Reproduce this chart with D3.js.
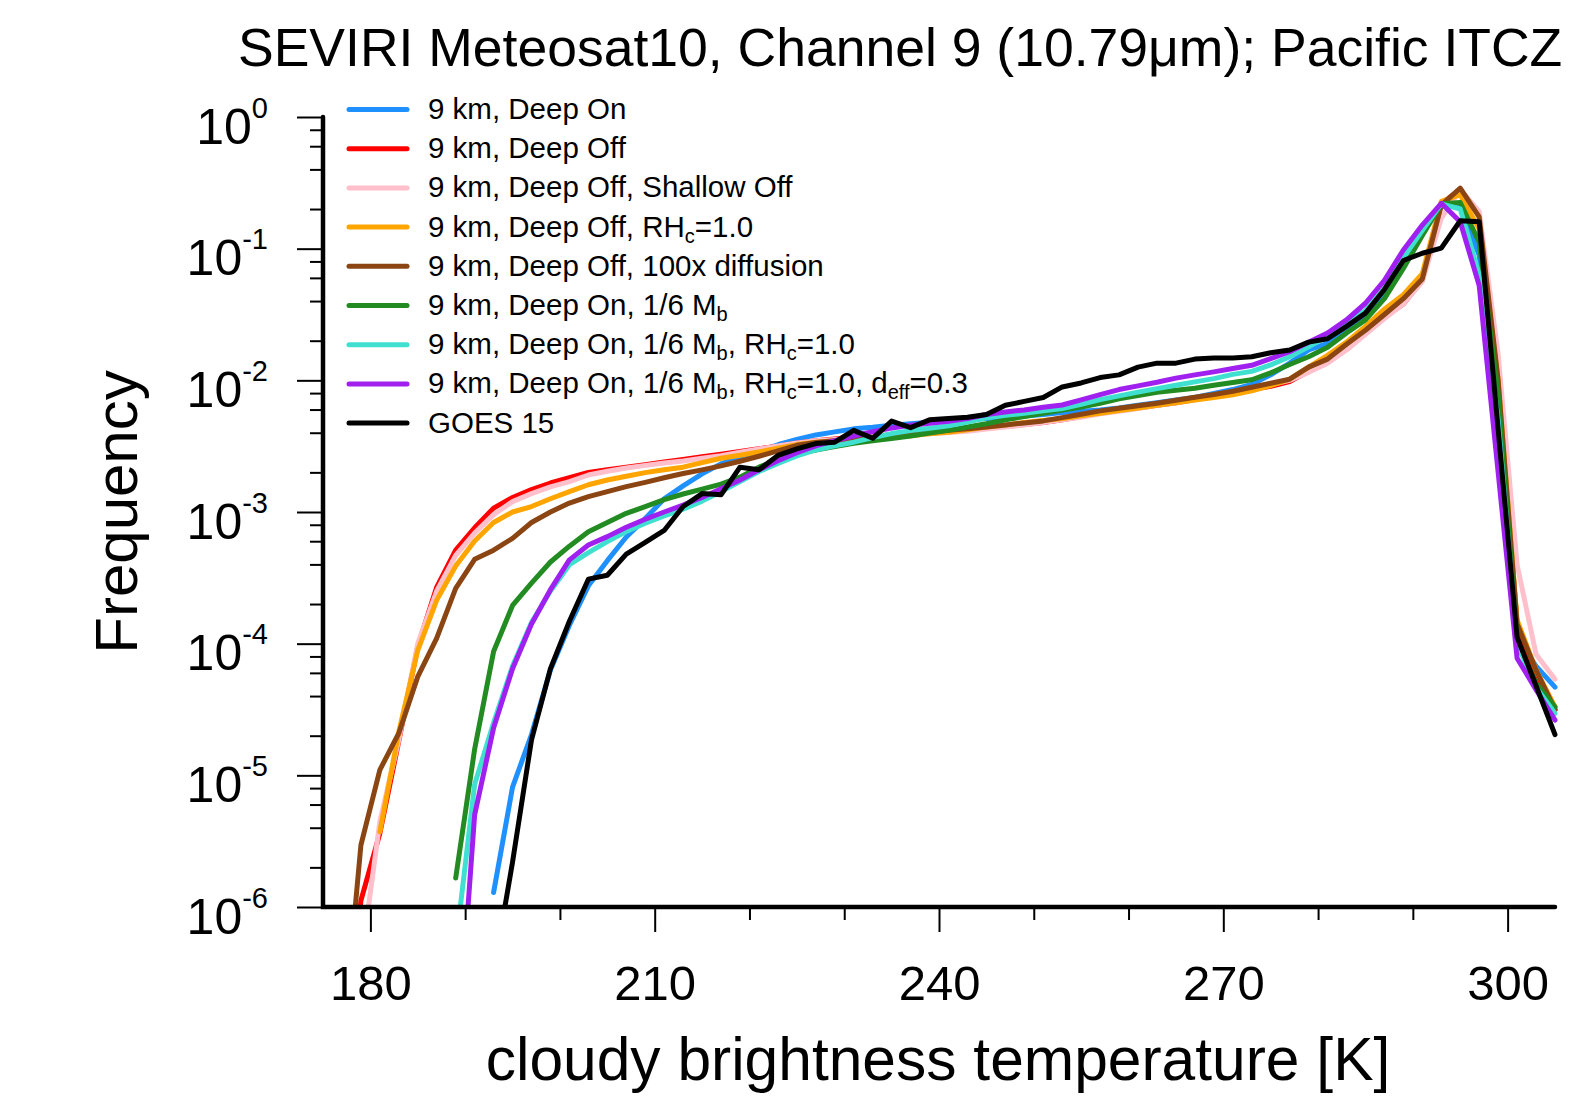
<!DOCTYPE html>
<html>
<head>
<meta charset="utf-8">
<script src="https://cdn.jsdelivr.net/npm/d3@7"></script>
<style>
  body { margin: 0; background: #fff; }
  text { font-family: "Liberation Sans", Arial, Helvetica, sans-serif; }
</style>
</head>
<body>
<div id="container"></div>
<script>
/* DATA */
// bin centres [K], 2 K bins
const temps = [
  177, 179, 181, 183, 185,
  187, 189, 191, 193, 195,
  197, 199, 201, 203, 205,
  207, 209, 211, 213, 215,
  217, 219, 221, 223, 225,
  227, 229, 231, 233, 235,
  237, 239, 241, 243, 245,
  247, 249, 251, 253, 255,
  257, 259, 261, 263, 265,
  267, 269, 271, 273, 275,
  277, 279, 281, 283, 285,
  287, 289, 291, 293, 295,
  297, 299, 301, 303, 305
];

// one row per 10 K, same layout as temps; null = no count in that bin
const deepOn = [
  null, null, null, null, null,
  null, null, null, 1.29e-6, 8.13e-6,
  2.04e-5, 6.31e-5, 1.38e-4, 2.75e-4, 4.27e-4,
  6.46e-4, 8.91e-4, 1.26e-3, 1.58e-3, 1.95e-3,
  2.32e-3, 2.64e-3, 2.92e-3, 3.24e-3, 3.56e-3,
  3.85e-3, 4.06e-3, 4.28e-3, 4.40e-3, 4.56e-3,
  4.69e-3, 4.81e-3, 4.89e-3, 5.01e-3, 5.13e-3,
  5.25e-3, 5.37e-3, 5.50e-3, 5.69e-3, 5.82e-3,
  5.96e-3, 6.17e-3, 6.46e-3, 6.76e-3, 7.08e-3,
  7.41e-3, 7.94e-3, 8.51e-3, 9.33e-3, 1.10e-2,
  1.35e-2, 1.70e-2, 1.91e-2, 2.34e-2, 3.16e-2,
  4.57e-2, 7.76e-2, 0.132, 0.219, 0.209,
  8.91e-2, 6.31e-3, 1.12e-4, 6.76e-5, 4.68e-5
];
const deepOff = [
  3.2e-8, 1.12e-6, 3.63e-6, 1.82e-5, 9.55e-5,
  2.69e-4, 5.13e-4, 7.59e-4, 1.07e-3, 1.29e-3,
  1.48e-3, 1.66e-3, 1.82e-3, 2.00e-3, 2.09e-3,
  2.19e-3, 2.29e-3, 2.40e-3, 2.51e-3, 2.63e-3,
  2.75e-3, 2.88e-3, 3.02e-3, 3.16e-3, 3.35e-3,
  3.47e-3, 3.59e-3, 3.72e-3, 3.80e-3, 3.85e-3,
  3.94e-3, 3.98e-3, 4.07e-3, 4.17e-3, 4.32e-3,
  4.47e-3, 4.62e-3, 4.79e-3, 5.01e-3, 5.31e-3,
  5.62e-3, 5.89e-3, 6.17e-3, 6.46e-3, 6.76e-3,
  7.16e-3, 7.59e-3, 7.94e-3, 8.51e-3, 9.02e-3,
  9.77e-3, 1.17e-2, 1.38e-2, 1.74e-2, 2.29e-2,
  3.02e-2, 3.80e-2, 5.75e-2, 0.219, 0.282,
  0.178, 1.0e-2, 1.41e-4, 5.62e-5, 3.16e-5
];
const shallowOff = [
  null, 3.72e-7, 4.47e-6, 1.86e-5, 1.00e-4,
  2.51e-4, 4.68e-4, 6.92e-4, 9.55e-4, 1.20e-3,
  1.38e-3, 1.55e-3, 1.70e-3, 1.91e-3, 2.04e-3,
  2.16e-3, 2.26e-3, 2.36e-3, 2.44e-3, 2.56e-3,
  2.68e-3, 2.84e-3, 3.01e-3, 3.18e-3, 3.35e-3,
  3.47e-3, 3.56e-3, 3.67e-3, 3.74e-3, 3.83e-3,
  3.89e-3, 3.94e-3, 4.01e-3, 4.10e-3, 4.27e-3,
  4.42e-3, 4.57e-3, 4.79e-3, 5.01e-3, 5.25e-3,
  5.56e-3, 5.82e-3, 6.10e-3, 6.46e-3, 6.76e-3,
  7.16e-3, 7.59e-3, 8.04e-3, 8.61e-3, 9.23e-3,
  1.00e-2, 1.15e-2, 1.35e-2, 1.70e-2, 2.24e-2,
  2.95e-2, 3.80e-2, 5.62e-2, 0.170, 0.282,
  0.191, 1.58e-2, 3.98e-4, 8.32e-5, 5.37e-5
];
const rhc = [
  null, null, 3.72e-6, 2.14e-5, 8.91e-5,
  2.14e-4, 3.89e-4, 6.03e-4, 8.32e-4, 1.00e-3,
  1.10e-3, 1.26e-3, 1.43e-3, 1.61e-3, 1.75e-3,
  1.87e-3, 1.99e-3, 2.09e-3, 2.19e-3, 2.37e-3,
  2.56e-3, 2.70e-3, 2.86e-3, 3.05e-3, 3.25e-3,
  3.39e-3, 3.48e-3, 3.59e-3, 3.66e-3, 3.74e-3,
  3.80e-3, 3.92e-3, 4.04e-3, 4.22e-3, 4.42e-3,
  4.57e-3, 4.79e-3, 4.95e-3, 5.13e-3, 5.37e-3,
  5.62e-3, 5.89e-3, 6.17e-3, 6.46e-3, 6.76e-3,
  7.08e-3, 7.41e-3, 7.76e-3, 8.32e-3, 9.12e-3,
  1.02e-2, 1.26e-2, 1.55e-2, 1.95e-2, 2.57e-2,
  3.47e-2, 4.47e-2, 6.46e-2, 0.229, 0.257,
  0.141, 1.0e-2, 1.51e-4, 6.31e-5, 3.31e-5
];
const diffusion = [
  7.9e-8, 2.95e-6, 1.10e-5, 2.09e-5, 5.62e-5,
  1.10e-4, 2.63e-4, 4.37e-4, 5.13e-4, 6.31e-4,
  8.32e-4, 1.00e-3, 1.17e-3, 1.31e-3, 1.43e-3,
  1.56e-3, 1.68e-3, 1.82e-3, 1.96e-3, 2.09e-3,
  2.24e-3, 2.43e-3, 2.65e-3, 2.91e-3, 3.21e-3,
  3.37e-3, 3.48e-3, 3.59e-3, 3.70e-3, 3.80e-3,
  3.92e-3, 4.04e-3, 4.18e-3, 4.29e-3, 4.43e-3,
  4.58e-3, 4.75e-3, 4.92e-3, 5.21e-3, 5.53e-3,
  5.86e-3, 6.14e-3, 6.40e-3, 6.70e-3, 7.06e-3,
  7.45e-3, 7.80e-3, 8.26e-3, 8.87e-3, 9.51e-3,
  1.02e-2, 1.26e-2, 1.45e-2, 1.88e-2, 2.40e-2,
  3.16e-2, 4.17e-2, 5.89e-2, 0.214, 0.288,
  0.174, 1.0e-2, 1.41e-4, 6.31e-5, 3.16e-5
];
const mb = [
  null, null, null, null, null,
  null, 1.66e-6, 1.58e-5, 8.71e-5, 1.95e-4,
  2.88e-4, 4.17e-4, 5.50e-4, 7.08e-4, 8.32e-4,
  9.77e-4, 1.10e-3, 1.24e-3, 1.37e-3, 1.49e-3,
  1.63e-3, 1.84e-3, 2.19e-3, 2.49e-3, 2.76e-3,
  2.96e-3, 3.14e-3, 3.33e-3, 3.47e-3, 3.61e-3,
  3.78e-3, 3.98e-3, 4.17e-3, 4.42e-3, 4.68e-3,
  5.01e-3, 5.31e-3, 5.62e-3, 5.96e-3, 6.28e-3,
  6.70e-3, 7.23e-3, 7.66e-3, 8.13e-3, 8.41e-3,
  8.71e-3, 9.18e-3, 9.62e-3, 1.01e-2, 1.14e-2,
  1.32e-2, 1.51e-2, 1.78e-2, 2.29e-2, 2.88e-2,
  4.17e-2, 7.08e-2, 0.126, 0.219, 0.224,
  0.112, 7.94e-3, 1.05e-4, 5.01e-5, 3.31e-5
];
const mbRhc = [
  null, null, null, null, null,
  null, 5.0e-7, 8.51e-6, 2.51e-5, 6.76e-5,
  1.45e-4, 2.51e-4, 3.98e-4, 4.92e-4, 5.96e-4,
  7.10e-4, 8.22e-4, 9.33e-4, 1.05e-3, 1.21e-3,
  1.43e-3, 1.70e-3, 2.03e-3, 2.34e-3, 2.67e-3,
  2.96e-3, 3.18e-3, 3.39e-3, 3.67e-3, 3.94e-3,
  4.15e-3, 4.33e-3, 4.51e-3, 4.82e-3, 5.19e-3,
  5.43e-3, 5.62e-3, 5.86e-3, 6.11e-3, 6.58e-3,
  7.14e-3, 7.62e-3, 8.13e-3, 8.65e-3, 9.18e-3,
  9.73e-3, 1.03e-2, 1.11e-2, 1.17e-2, 1.31e-2,
  1.51e-2, 1.80e-2, 2.16e-2, 2.72e-2, 3.39e-2,
  5.01e-2, 8.51e-2, 0.138, 0.219, 0.200,
  6.31e-2, 5.01e-3, 1.0e-4, 4.68e-5, 2.95e-5
];
const mbRhcDeff = [
  null, null, null, null, null,
  null, 5.0e-8, 5.01e-6, 2.29e-5, 6.46e-5,
  1.41e-4, 2.57e-4, 4.33e-4, 5.62e-4, 6.50e-4,
  7.66e-4, 8.81e-4, 1.00e-3, 1.13e-3, 1.29e-3,
  1.50e-3, 1.75e-3, 2.09e-3, 2.45e-3, 2.82e-3,
  3.18e-3, 3.48e-3, 3.78e-3, 4.08e-3, 4.35e-3,
  4.56e-3, 4.72e-3, 4.89e-3, 5.13e-3, 5.50e-3,
  5.75e-3, 5.96e-3, 6.25e-3, 6.50e-3, 7.10e-3,
  7.80e-3, 8.51e-3, 9.08e-3, 9.66e-3, 1.04e-2,
  1.10e-2, 1.16e-2, 1.23e-2, 1.30e-2, 1.46e-2,
  1.65e-2, 1.95e-2, 2.29e-2, 2.88e-2, 3.85e-2,
  5.75e-2, 9.77e-2, 0.151, 0.221, 0.160,
  5.25e-2, 2.0e-3, 7.76e-5, 4.47e-5, 2.63e-5
];
const goes15 = [
  null, null, null, null, null,
  null, null, null, 3.16e-7, 2.19e-6,
  1.86e-5, 6.46e-5, 1.48e-4, 3.09e-4, 3.31e-4,
  4.79e-4, 5.89e-4, 7.24e-4, 1.10e-3, 1.38e-3,
  1.35e-3, 2.19e-3, 2.09e-3, 2.69e-3, 3.02e-3,
  3.31e-3, 3.39e-3, 4.17e-3, 3.63e-3, 4.90e-3,
  4.37e-3, 5.01e-3, 5.13e-3, 5.25e-3, 5.50e-3,
  6.46e-3, 6.92e-3, 7.41e-3, 8.91e-3, 9.55e-3,
  1.05e-2, 1.10e-2, 1.26e-2, 1.35e-2, 1.35e-2,
  1.45e-2, 1.48e-2, 1.48e-2, 1.51e-2, 1.62e-2,
  1.70e-2, 1.95e-2, 2.07e-2, 2.57e-2, 3.24e-2,
  4.90e-2, 8.13e-2, 9.23e-2, 0.101, 0.163,
  0.160, 4.27e-3, 1.12e-4, 4.79e-5, 2.04e-5
];

const labels = [
  "9 km, Deep On",
  "9 km, Deep Off",
  "9 km, Deep Off, Shallow Off",
  "9 km, Deep Off, RH_{c}=1.0",
  "9 km, Deep Off, 100x diffusion",
  "9 km, Deep On, 1/6 M_{b}",
  "9 km, Deep On, 1/6 M_{b}, RH_{c}=1.0",
  "9 km, Deep On, 1/6 M_{b}, RH_{c}=1.0, d_{eff}=0.3",
  "GOES 15"
];
const colors = ["#1e90ff", "#ff0000", "#ffc0cb", "#ffa500", "#8b4513",
                "#228b22", "#40e0d0", "#a020f0", "#000000"];
const values = [deepOn, deepOff, shallowOff, rhc, diffusion, mb, mbRhc, mbRhcDeff, goes15];

const xMajorTicks = [180, 210, 240, 270, 300];
const xMinorTicks = [190, 200, 220, 230, 250, 260, 280, 290];
const yMajorTicks = [1e-6, 1e-5, 1e-4, 1e-3, 1e-2, 1e-1, 1];
const yMinorTicks = [
  2e-6, 4e-6, 6e-6, 8e-6, 2e-5, 4e-5, 6e-5, 8e-5,
  2e-4, 4e-4, 6e-4, 8e-4, 2e-3, 4e-3, 6e-3, 8e-3,
  2e-2, 4e-2, 6e-2, 8e-2, 0.2, 0.4, 0.6, 0.8
];

/* CONSTANTS AND GLOBALS */
const width = 1572;
const height = 1106;
const margin = { top: 117, bottom: 199, left: 323, right: 17 };
const plotBottom = height - margin.bottom;

/* SCALES */
const xScale = d3.scaleLinear()
  .domain([175, 305])
  .range([margin.left, width - margin.right]);

const yScale = d3.scaleLog()
  .domain([1e-6, 1])
  .range([plotBottom, margin.top]);

/* HTML ELEMENTS */
const svg = d3.select("#container")
  .append("svg")
  .attr("width", width)
  .attr("height", height)
  .style("background-color", "white");

svg.append("clipPath")
  .attr("id", "clip")
  .append("rect")
  .attr("x", 0).attr("y", 0)
  .attr("width", width).attr("height", plotBottom);

const line = d3.line()
  .defined(d => d[1] != null)
  .x(d => xScale(d[0]))
  .y(d => yScale(d[1]));

const lines = svg.append("g").attr("clip-path", "url(#clip)");
values.forEach((vals, i) => {
  lines.append("path")
    .datum(temps.map((t, j) => [t, vals[j]]))
    .attr("fill", "none")
    .attr("stroke", colors[i])
    .attr("stroke-width", 5)
    .attr("stroke-linejoin", "round")
    .attr("stroke-linecap", "round")
    .attr("d", line);
});

// x axis
const xMajor = svg.append("g")
  .attr("transform", `translate(0,${plotBottom})`)
  .call(d3.axisBottom(xScale).tickValues(xMajorTicks).tickSize(25).tickFormat(d3.format("d")));
xMajor.select(".domain").remove();
xMajor.selectAll(".tick line").attr("stroke-width", 2);
xMajor.selectAll(".tick text")
  .attr("y", 93).attr("dy", null)
  .attr("font-size", 49)
  .attr("fill", "black");

const xMinor = svg.append("g")
  .attr("transform", `translate(0,${plotBottom})`)
  .call(d3.axisBottom(xScale).tickValues(xMinorTicks).tickSize(13).tickFormat(""));
xMinor.select(".domain").remove();
xMinor.selectAll(".tick line").attr("stroke-width", 2);

// y axis
const yMajor = svg.append("g")
  .attr("transform", `translate(${margin.left},0)`)
  .call(d3.axisLeft(yScale).tickValues(yMajorTicks).tickSize(26));
yMajor.select(".domain").remove();
yMajor.selectAll(".tick line").attr("stroke-width", 2);
yMajor.selectAll(".tick text")
  .attr("x", -55).attr("y", 26).attr("dy", null)
  .attr("font-size", 50)
  .attr("fill", "black")
  .each(function(d) {
    const t = d3.select(this).text(null);
    t.append("tspan").text("10");
    t.append("tspan")
      .attr("dy", -26)
      .attr("font-size", 29)
      .text(Math.round(Math.log10(d)));
  });

const yMinor = svg.append("g")
  .attr("transform", `translate(${margin.left},0)`)
  .call(d3.axisLeft(yScale).tickValues(yMinorTicks).tickSize(13).tickFormat(""));
yMinor.select(".domain").remove();
yMinor.selectAll(".tick line").attr("stroke-width", 2);

// axis lines (no top / right border)
svg.append("path")
  .attr("d", `M${margin.left},${margin.top}V${plotBottom}H${width - margin.right}`)
  .attr("fill", "none")
  .attr("stroke", "black")
  .attr("stroke-width", 4.5)
  .attr("stroke-linecap", "round");

/* LEGEND */
function richText(sel, str, subSize, shift) {
  // "RH_{c}" -> RH with subscript c
  const parts = str.split(/_\{([^}]*)\}/);
  parts.forEach((p, k) => {
    if (k % 2 === 1) {
      sel.append("tspan").attr("dy", shift).attr("font-size", subSize).text(p);
    } else if (p.length) {
      sel.append("tspan").attr("dy", k > 0 ? -shift : null).text(p);
    }
  });
}

const legend = svg.append("g");
labels.forEach((lab, i) => {
  const yy = 109.5 + i * 39.2;
  legend.append("line")
    .attr("x1", 349).attr("x2", 407)
    .attr("y1", yy).attr("y2", yy)
    .attr("stroke", colors[i])
    .attr("stroke-width", 5)
    .attr("stroke-linecap", "round");
  const t = legend.append("text")
    .attr("x", 428)
    .attr("y", yy + 9.5)
    .attr("font-size", 29.5);
  richText(t, lab, 20, 6);
});

/* TITLES */
svg.append("text")
  .attr("x", 238)
  .attr("y", 66)
  .attr("font-size", 53.5)
  .text("SEVIRI Meteosat10, Channel 9 (10.79\u03bcm); Pacific ITCZ");

svg.append("text")
  .attr("x", 938)
  .attr("y", 1080)
  .attr("text-anchor", "middle")
  .attr("font-size", 60.5)
  .text("cloudy brightness temperature [K]");

svg.append("text")
  .attr("x", -(margin.top + plotBottom) / 2)
  .attr("y", 137)
  .attr("transform", "rotate(-90)")
  .attr("text-anchor", "middle")
  .attr("font-size", 60)
  .text("Frequency");
</script>
</body>
</html>
